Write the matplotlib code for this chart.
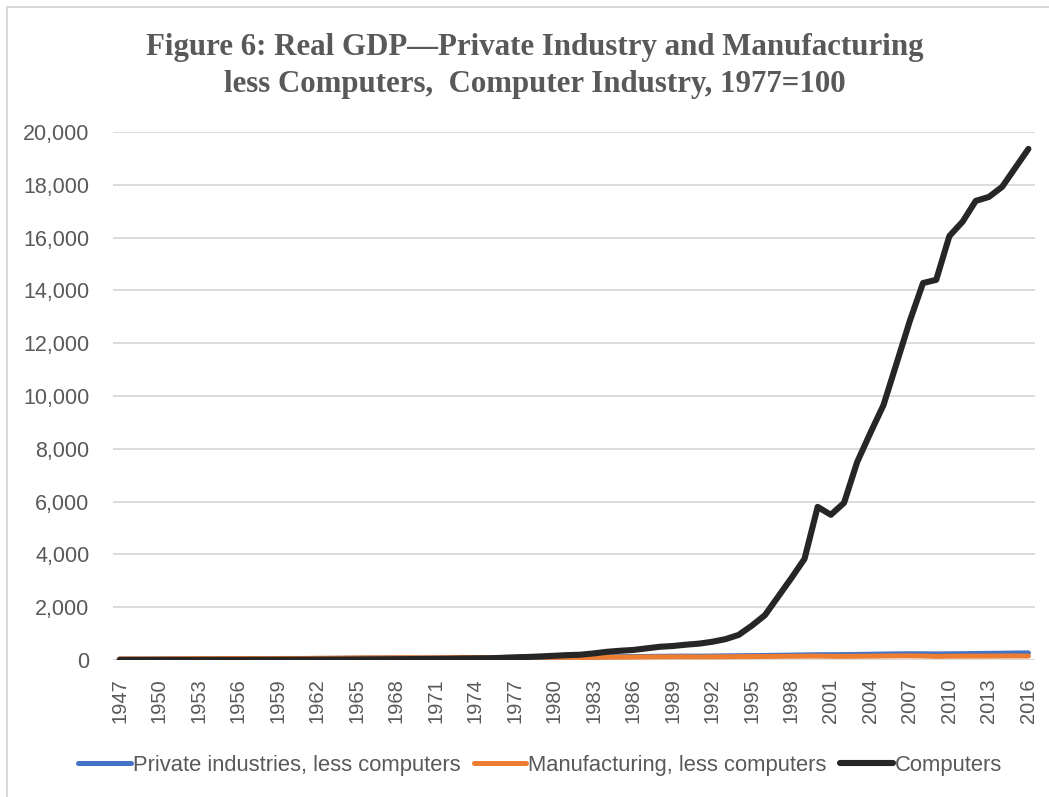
import matplotlib
matplotlib.use("Agg")
import numpy as np
from matplotlib import pyplot as plt
from matplotlib.patches import Rectangle

years = list(range(1947, 2017))

private_less_computers = [
  36, 37, 37, 40, 43, 44, 46, 46, 49, 50,
  51, 50, 54, 55, 56, 59, 61, 65, 69, 73,
  75, 79, 81, 81, 84, 88, 93, 92, 92, 96,
  100, 106, 109, 109, 111, 108, 113, 122, 127, 131,
  135, 141, 146, 148, 147, 152, 156, 162, 166, 172,
  179, 186, 194, 201, 202, 205, 211, 219, 226, 233,
  237, 236, 229, 235, 240, 246, 251, 257, 265, 269,
]

manufacturing_less_computers = [
  40, 42, 40, 45, 49, 51, 55, 51, 56, 57,
  57, 53, 58, 59, 59, 64, 68, 72, 78, 83,
  83, 86, 88, 84, 85, 91, 98, 94, 88, 95,
  100, 104, 106, 101, 102, 95, 99, 107, 108, 109,
  115, 120, 121, 120, 117, 120, 122, 128, 131, 133,
  138, 141, 144, 147, 139, 138, 140, 146, 150, 155,
  157, 150, 136, 144, 145, 147, 148, 149, 151, 150,
]

computers = [
  0.5, 0.7, 1, 1.3, 1.7, 2.2, 2.8, 3.5, 4.3, 5.2,
  6.2, 7, 8.5, 10, 11, 13, 15, 18, 21, 25,
  28, 31, 35, 36, 38, 45, 55, 62, 65, 80,
  100, 115, 135, 160, 185, 200, 250, 310, 350, 380,
  440, 500, 530, 580, 620, 690, 790, 950, 1300, 1700,
  2400, 3100, 3830, 5800, 5500, 5950, 7500, 8600, 9660, 11250,
  12850, 14280, 14400, 16060, 16600, 17390, 17540, 17920, 18640, 19360,
]

labels = ["Private industries, less computers", "Manufacturing, less computers", "Computers"]
colors = ["#4472C4", "#ED7D31", "#262626"]

W, H = 1049, 797
fig = plt.figure(figsize=(W / 100, H / 100), dpi=100)

# light border around the chart area (runs off the right/bottom edge)
fig.patches.append(Rectangle((7 / W, -0.5), 1.2, 1.5 - 7 / H, transform=fig.transFigure,
                             fill=False, edgecolor="#D9D9D9", linewidth=1.5))

ax = fig.add_axes([113 / W, (H - 660) / H, (1035 - 113) / W, (660 - 132) / H])

x = np.arange(len(years))
ax.plot(x, private_less_computers, color=colors[0], lw=3.6, solid_capstyle="round", label=labels[0])
ax.plot(x, manufacturing_less_computers, color=colors[1], lw=3.6, solid_capstyle="round", label=labels[1])
ax.plot(x, computers, color=colors[2], lw=4.4, solid_capstyle="round", label=labels[2])

ax.set_xlim(-0.5, len(years) - 0.5)
ax.set_ylim(0, 20000)
ax.set_yticks(range(0, 20001, 2000))
ax.set_yticklabels([f"{v:,}" for v in range(0, 20001, 2000)])
ax.set_xticks(x[::3])
ax.set_xticklabels([str(y) for y in years[::3]], rotation=90)

ax.grid(axis="y", color="#D9D9D9", lw=1.3)
ax.set_axisbelow(True)
for s in ["top", "right", "left", "bottom"]:
  ax.spines[s].set_visible(False)
ax.tick_params(axis="both", length=0, colors="#595959")
ax.tick_params(axis="y", pad=17, labelsize=15.5)
ax.tick_params(axis="x", pad=13, labelsize=14.5)
for t in ax.get_xticklabels() + ax.get_yticklabels():
  t.set_fontfamily("Liberation Sans")

fig.text(535 / W, 1 - 66 / H,
         "Figure 6: Real GDP\u2014Private Industry and Manufacturing\nless Computers,  Computer Industry, 1977=100",
         ha="center", va="center", fontsize=22.2, fontweight="bold", family="Liberation Serif",
         color="#595959", linespacing=1.32)

fig.legend(loc="center", bbox_to_anchor=(540 / W, 1 - 765 / H), ncol=3, frameon=False,
           handlelength=2.4, handletextpad=0.1, columnspacing=0.6,
           prop={"family": "Liberation Sans", "size": 15.8}, labelcolor="#595959")

fig.savefig("out.png", dpi=100)
